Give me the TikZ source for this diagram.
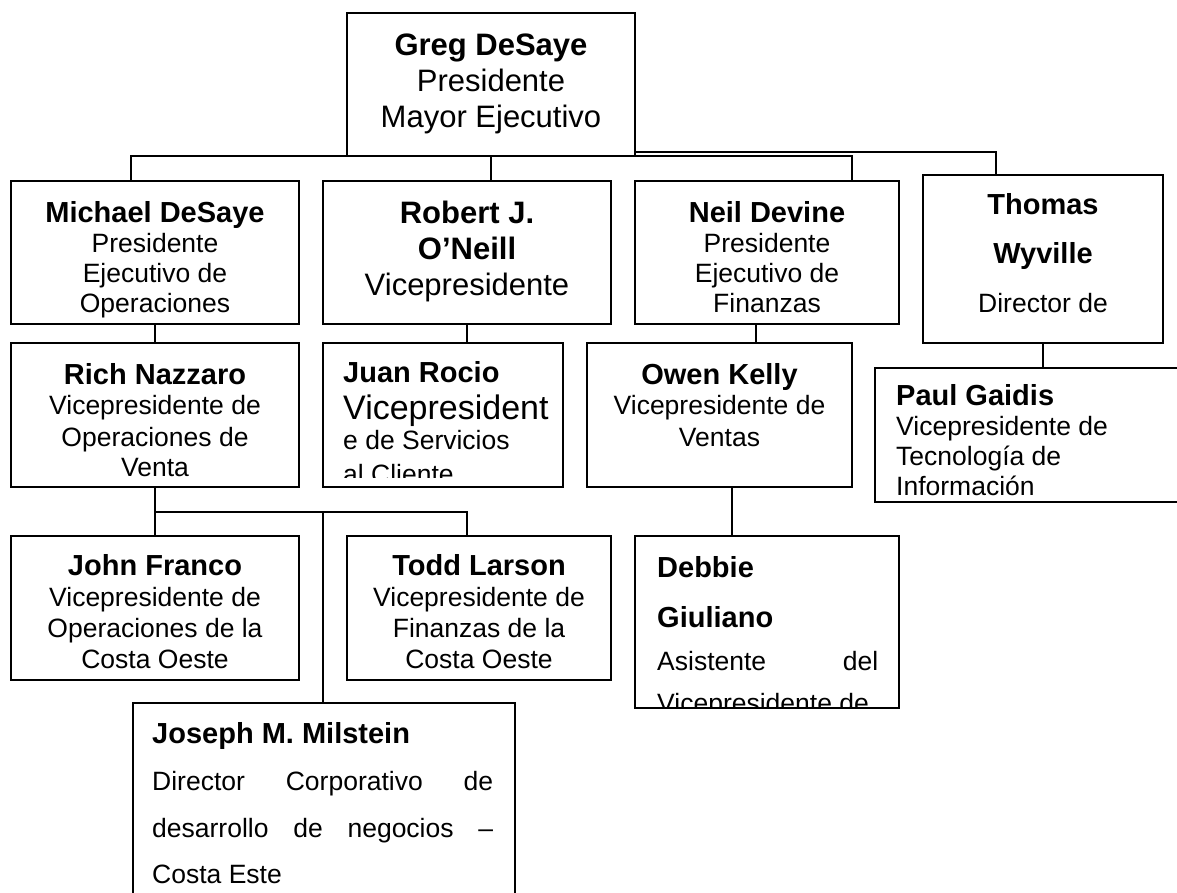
\documentclass[tikz,border=0pt]{standalone}
\usepackage{fontspec}
\setmainfont{Liberation Sans}
\begin{document}
\begin{tikzpicture}[x=1pt,y=-1pt,
  box/.style={draw, line width=1.6pt, inner sep=0pt, outer sep=0pt, anchor=north west},
  frame/.style={inner sep=0pt, outer sep=0pt, anchor=north west},
  ln/.style={line width=1.6pt},
  nm/.style={inner sep=0pt, font=\bfseries\fontsize{29}{29}\selectfont},
  tx/.style={inner sep=0pt, font=\fontsize{26.5}{26.5}\selectfont},
  bignm/.style={inner sep=0pt, font=\bfseries\fontsize{31}{31}\selectfont},
  bigtx/.style={inner sep=0pt, font=\fontsize{31}{31}\selectfont},
  hugetx/.style={inner sep=0pt, font=\fontsize{34}{34}\selectfont}]
\useasboundingbox (0,0) rectangle (1177,893);
\fill[white] (0,0) rectangle (1177,893);

% ---------- boxes ----------
\node[box, minimum width=288pt, minimum height=143pt] (greg) at (347,13) {};
\node[box, minimum width=288pt, minimum height=143pt] (mich) at (11,181) {};
\node[box, minimum width=288pt, minimum height=143pt] (rob)  at (323,181) {};
\node[box, minimum width=264pt, minimum height=143pt] (neil) at (635,181) {};
\node[box, minimum width=240pt, minimum height=168pt] (thom) at (923,175) {};
\node[box, minimum width=288pt, minimum height=144pt] (rich) at (11,343) {};
\node[box, minimum width=240pt, minimum height=144pt] (juan) at (323,343) {};
\node[box, minimum width=265pt, minimum height=144pt] (owen) at (587,343) {};
\node[frame, minimum width=310pt, minimum height=134pt] (paul) at (875,368) {};
\draw[ln] (paul.north east) -- (paul.north west) -- (paul.south west) -- (paul.south east);
\node[box, minimum width=288pt, minimum height=144pt] (john) at (11,536) {};
\node[box, minimum width=264pt, minimum height=144pt] (todd) at (347,536) {};
\node[box, minimum width=264pt, minimum height=172pt] (deb)  at (635,536) {};
\node[frame, minimum width=382pt, minimum height=200pt] (jos) at (133,703) {};
\draw[ln] (jos.south west) -- (jos.north west) -- (jos.north east) -- (jos.south east);

% ---------- connector columns ----------
\coordinate (cmich) at (131,0);
\coordinate (cneil) at (852,0);
\coordinate (cthom) at (996,0);
\coordinate (cowen) at (756,0);
\coordinate (cdeb)  at (732,0);
\coordinate (cjos)  at (323,0);
\coordinate (ctodd) at (467,0);
\coordinate (bus2)  at (0,512);

% ---------- connectors ----------
\draw[ln] (mich.north -| cmich) |- (greg.south) -| (neil.north -| cneil);
\draw[ln] (greg.south) -- (rob.north -| greg.south);
\draw[ln] ([yshift=4pt]greg.south east) -| (thom.north -| cthom);
\draw[ln] (mich.south) -- (rich.north);
\draw[ln] (rob.south) -- (juan.north -| rob.south);
\draw[ln] (neil.south -| cowen) -- (owen.north -| cowen);
\draw[ln] (thom.south) -- (paul.north -| thom.south);
\draw[ln] (rich.south) -- (john.north);
\draw[ln] (rich.south |- bus2) -| (todd.north -| ctodd);
\draw[ln] (cjos |- bus2) -- (jos.north -| cjos);
\draw[ln] (owen.south -| cdeb) -- (deb.north -| cdeb);

% ---------- texts ----------
% Greg
\node[bignm, anchor=base] (g1) at (491,56) {Greg DeSaye};
\node[bigtx, anchor=base] (g2) at (491,92) {Presidente};
\node[bigtx, anchor=base] (g3) at (491,128) {Mayor Ejecutivo};
% Michael
\node[nm, anchor=base] (m1) at (155,223) {Michael DeSaye};
\node[tx, anchor=base] (m2) at (155,253) {Presidente};
\node[tx, anchor=base] (m3) at (155,282) {Ejecutivo de};
\node[tx, anchor=base] (m4) at (155,312) {Operaciones};
% Robert
\node[bignm, anchor=base] (r1) at (467,224) {Robert J.};
\node[bignm, anchor=base] (r2) at (467,259) {O’Neill};
\node[bigtx, anchor=base] (r3) at (467,295) {Vicepresidente};
% Neil
\node[nm, anchor=base] (n1) at (767,223) {Neil Devine};
\node[tx, anchor=base] (n2) at (767,253) {Presidente};
\node[tx, anchor=base] (n3) at (767,282) {Ejecutivo de};
\node[tx, anchor=base] (n4) at (767,312) {Finanzas};
% Thomas
\node[nm, anchor=base] (t1) at (1043,215) {Thomas};
\node[nm, anchor=base] (t2) at (1043,263) {Wyville};
\node[tx, anchor=base] (t3) at (1043,312) {Director de};
% Rich
\node[nm, anchor=base] (ri1) at (155,384) {Rich Nazzaro};
\node[tx, anchor=base] (ri2) at (155,414) {Vicepresidente de};
\node[tx, anchor=base] (ri3) at (155,446) {Operaciones de};
\node[tx, anchor=base] (ri4) at (155,476) {Venta};
% Juan (clipped)
\begin{scope}
\clip (juan.north west) rectangle ([yshift=10pt]juan.south east);
\node[nm, anchor=base west] (j1) at (343,382) {Juan Rocio};
\node[hugetx, anchor=base west] (j2) at (343,419) {Vicepresident};
\node[tx, anchor=base west] (j3) at (343,449) {e de Servicios};
\node[tx, anchor=base west] (j4) at (343,483) {al Cliente};
\end{scope}
% Owen
\node[nm, anchor=base] (o1) at (719.5,384) {Owen Kelly};
\node[tx, anchor=base] (o2) at (719.5,414) {Vicepresidente de};
\node[tx, anchor=base] (o3) at (719.5,446) {Ventas};
% Paul
\node[nm, anchor=base west] (p1) at (896,405) {Paul Gaidis};
\node[tx, anchor=base west] (p2) at (896,435) {Vicepresidente de};
\node[tx, anchor=base west] (p3) at (896,465) {Tecnología de};
\node[tx, anchor=base west] (p4) at (896,495) {Información};
% John
\node[nm, anchor=base] (jo1) at (155,575) {John Franco};
\node[tx, anchor=base] (jo2) at (155,606) {Vicepresidente de};
\node[tx, anchor=base] (jo3) at (155,637) {Operaciones de la};
\node[tx, anchor=base] (jo4) at (155,668) {Costa Oeste};
% Todd
\node[nm, anchor=base] (to1) at (479,575) {Todd Larson};
\node[tx, anchor=base] (to2) at (479,606) {Vicepresidente de};
\node[tx, anchor=base] (to3) at (479,637) {Finanzas de la};
\node[tx, anchor=base] (to4) at (479,668) {Costa Oeste};
% Debbie (clipped)
\begin{scope}
\clip (deb.north west) rectangle ([yshift=1pt]deb.south east);
\node[nm, anchor=base west] (d1) at (657,577) {Debbie};
\node[nm, anchor=base west] (d2) at (657,627) {Giuliano};
\node[tx, anchor=base west] (d3) at (657,670) {\makebox[221pt][s]{Asistente\hfill del}};
\node[tx, anchor=base west] (d4) at (657,712) {Vicepresidente de};
\end{scope}
% Joseph
\node[nm, anchor=base west] (js1) at (152,743) {Joseph M. Milstein};
\node[tx, anchor=base west] (js2) at (152,790) {\makebox[341pt][s]{Director\hfill Corporativo\hfill de}};
\node[tx, anchor=base west] (js3) at (152,837) {\makebox[341pt][s]{desarrollo\hfill de\hfill negocios\hfill –}};
\node[tx, anchor=base west] (js4) at (152,883) {Costa Este};
\end{tikzpicture}
\end{document}
